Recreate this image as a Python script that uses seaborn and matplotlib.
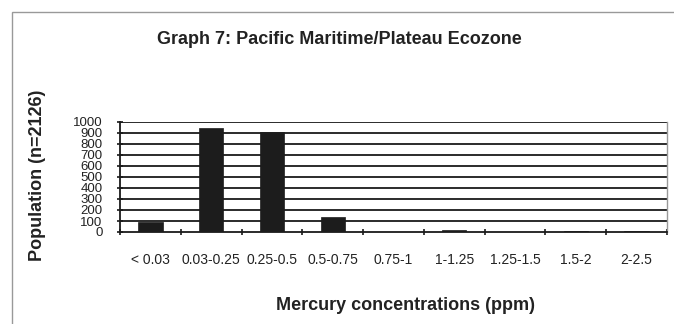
import matplotlib
matplotlib.use("Agg")
import matplotlib.pyplot as plt
import seaborn as sns
import pandas as pd
from matplotlib.patches import Rectangle

categories = ["< 0.03", "0.03-0.25", "0.25-0.5", "0.5-0.75", "0.75-1",
              "1-1.25", "1.25-1.5", "1.5-2", "2-2.5"]
population = [95, 945, 910, 135, 3, 15, 3, 12, 8]
y_ticks = list(range(0, 1001, 100))

title = "Graph 7: Pacific Maritime/Plateau Ecozone"
x_label = "Mercury concentrations (ppm)"
y_label = "Population (n=2126)"

sns.set_theme(style="white")
plt.rcParams["font.family"] = ["Liberation Sans", "DejaVu Sans"]

df = pd.DataFrame({"cat": categories, "pop": population})

W, H = 674, 324
fig = plt.figure(figsize=(W / 100, H / 100), dpi=100)
fig.patch.set_facecolor("white")

ax_l, ax_r, ax_t, ax_b = 120, 667, 122, 232
ax = fig.add_axes([ax_l / W, 1 - ax_b / H, (ax_r - ax_l) / W, (ax_b - ax_t) / H])

sns.barplot(data=df, x="cat", y="pop", color="#1c1c1c", width=0.4,
            saturation=1, ax=ax, zorder=3, edgecolor="#1c1c1c", linewidth=0.5)

ax.set_ylim(0, 1000)
ax.set_xlim(-0.5, len(categories) - 0.5)
ax.set_yticks(y_ticks)
ax.set_yticklabels([str(v) for v in y_ticks], fontsize=9.5, color="#222222")
for v in y_ticks[1:]:
    ax.axhline(v, color="#1a1a1a", lw=1.3, zorder=1)

ax.set_xticks(range(len(categories)))
ax.set_xticklabels(categories, fontsize=10, color="#222222")
ax.set_xticks([i - 0.5 for i in range(len(categories) + 1)], minor=True)
ax.tick_params(axis="x", which="major", length=0, pad=15)
ax.tick_params(axis="x", which="minor", length=5, width=1.2, direction="inout",
               color="#1a1a1a", bottom=True)
ax.tick_params(axis="y", which="major", length=5, width=1.2, direction="inout",
               color="#1a1a1a", left=True, pad=10)

ax.set_xlabel("")
ax.set_ylabel("")
for s in ["left", "bottom"]:
    ax.spines[s].set_color("#1a1a1a")
    ax.spines[s].set_linewidth(1.3)
for s in ["top", "right"]:
    ax.spines[s].set_color("#999999")
    ax.spines[s].set_linewidth(1.0)
ax.spines["top"].set_visible(False)

fig.text(339 / W, 1 - 40 / H, title, ha="center", va="center",
         fontsize=13, fontweight="bold", color="#222222")
fig.text(405 / W, 1 - 305 / H, x_label, ha="center", va="center",
         fontsize=13, fontweight="bold", color="#222222")
fig.text(38 / W, 1 - 175 / H, y_label, ha="center", va="center",
         rotation=90, fontsize=13, fontweight="bold", color="#222222")

fig.add_artist(Rectangle((12 / W, -0.1), 1.2, 1 - 12 / H + 0.1,
                         transform=fig.transFigure, fill=False,
                         edgecolor="#999999", lw=1.0))

fig.savefig("out.png", dpi=100)
